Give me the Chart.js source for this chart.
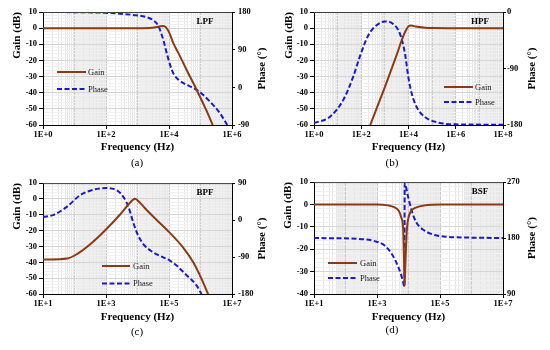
<!DOCTYPE html>
<html>
<head>
<meta charset="utf-8">
<script src="https://cdn.jsdelivr.net/npm/chart.js@4.4.1/dist/chart.umd.min.js"></script>
<style>
  body { margin: 0; background: #fff; width: 550px; height: 350px; position: relative; overflow: hidden; }
  canvas { position: absolute; }
</style>
</head>
<body>
<canvas id="ca" width="275" height="175" style="left:0;top:0"></canvas>
<canvas id="cb" width="275" height="175" style="left:275px;top:0"></canvas>
<canvas id="cc" width="275" height="175" style="left:0;top:175px"></canvas>
<canvas id="cd" width="275" height="175" style="left:275px;top:175px"></canvas>
<script>
// (a) low-pass filter
var lpfGainHz = [1, 10, 100, 1000, 3000, 5000, 6600, 8000, 10000, 13800, 20000, 36300, 75900, 150000, 245000];
var lpfGainDb = [0, 0, 0, 0, 0.3, 1.0, 1.3, 0.5, -2.5, -9.4, -15.5, -25.9, -38.3, -50.5, -60];
var lpfPhaseHz = [1, 10, 100, 724, 1905, 3236, 4571, 6607, 8511, 11220, 13800, 20000, 28840, 44670, 75860, 199500, 416900, 708000];
var lpfPhaseDeg = [180, 179.5, 178, 173, 168, 160, 147, 113, 81, 50, 33, 18, 10, 3, -6, -34, -62, -90];

// (b) high-pass filter
var hpfGainHz = [240, 1000, 3000, 6000, 8000, 10000, 13000, 20000, 50000, 100000, 1e6, 1e8];
var hpfGainDb = [-60, -36.5, -17.5, -5, -1, 1.2, 1.6, 1.0, 0.3, 0.1, 0, 0];
var hpfPhaseHz = [1, 4.8, 17.4, 45.7, 87, 200, 447, 1000, 2240, 4270, 7080, 9770, 13500, 21900, 49000, 178000, 1e6, 1e8];
var hpfPhaseDeg = [-177, -166.7, -140, -103, -71, -37, -21, -15, -19, -34, -66, -103, -129, -151, -167, -176, -179, -179.5];

// (c) band-pass filter
var bpfGainHz = [10, 58, 120, 316, 1000, 2750, 5000, 7400, 8300, 12000, 19500, 40000, 107000, 282000, 589000, 1070000, 1740000];
var bpfGainDb = [-38.3, -37.6, -34.8, -28.6, -19.3, -10, -3.8, -0.3, 0.1, -2.4, -7, -13.1, -21.4, -30.7, -40, -50.3, -60];
var bpfPhaseHz = [10, 22, 58, 151, 398, 1000, 2190, 3550, 5130, 7400, 10700, 15500, 31600, 66000, 107000, 174000, 363000, 741000, 1070000];
var bpfPhaseDeg = [7.2, 12.8, 32.7, 60.5, 74, 78, 72.5, 56.6, 32.7, -7, -39, -59, -78.8, -90.7, -98.7, -110.6, -134.5, -158.4, -180];

// (d) band-stop filter
var bsfGainHz = [10, 1000, 2240, 3630, 4900, 5900, 6760, 7200, 7500, 8000, 8900, 10000, 12300, 17800, 32400, 110000, 1e7];
var bsfGainDb = [0, 0, -0.4, -1.3, -2.8, -5.8, -10.9, -24, -36.5, -25.5, -11, -5.8, -2.8, -1.3, -0.4, 0, 0];
var bsfPhaseHz = [10, 251, 851, 1740, 3160, 4680, 5890, 6760, 7420, 7560, 9550, 12300, 17800, 32400, 67600, 178000, 776000, 1e7];
var bsfPhaseDeg = [180, 178.7, 175, 168, 152, 134, 120, 109, 101.6, 268, 248, 226, 205, 192, 185, 182, 180.8, 180];

var GAIN_COLOR = '#8B3A14';
var PHASE_COLOR = '#1A1ACC';
var SERIF = "'Liberation Serif', 'Times New Roman', serif";

function pts(xs, ys) {
    return xs.map(function(x, i) { return { x: x, y: ys[i] }; });
}
function isDecade(v) {
    var l = Math.log10(v);
    return Math.abs(l - Math.round(l)) < 1e-6;
}

// grey bands, frame, tag, legend, phase title and caption
var deco = {
    id: 'deco',
    beforeDraw: function(chart, args, o) {
        var ctx = chart.ctx, a = chart.chartArea, xs = chart.scales.x;
        ctx.save();
        ctx.fillStyle = '#eeeeee';
        o.bands.forEach(function(b) {
            var x0 = xs.getPixelForValue(b[0]), x1 = xs.getPixelForValue(b[1]);
            ctx.fillRect(x0, a.top, x1 - x0, a.bottom - a.top);
        });
        ctx.restore();
    },
    afterDraw: function(chart, args, o) {
        var ctx = chart.ctx, a = chart.chartArea;
        ctx.save();
        ctx.strokeStyle = '#404040';
        ctx.lineWidth = 1;
        ctx.beginPath();
        ctx.moveTo(a.left, a.top + 0.5);
        ctx.lineTo(a.right, a.top + 0.5);
        ctx.stroke();

        ctx.fillStyle = '#000';
        ctx.textBaseline = 'middle';
        ctx.textAlign = 'center';
        ctx.font = 'bold 9px ' + SERIF;
        ctx.fillText(o.tag, 205, a.top + 9.5);

        ctx.textAlign = 'left';
        ctx.font = '8.5px ' + SERIF;
        chart.data.datasets.forEach(function(ds, i) {
            var y = o.legY[i];
            ctx.strokeStyle = ds.borderColor;
            ctx.lineWidth = 2;
            ctx.setLineDash(ds.borderDash || []);
            ctx.beginPath();
            ctx.moveTo(o.legX[0], y);
            ctx.lineTo(o.legX[1], y);
            ctx.stroke();
            ctx.setLineDash([]);
            ctx.fillStyle = '#222';
            ctx.fillText(ds.label, o.legX[2], y + 0.5);
        });

        // right axis title reads bottom-to-top, like the left one
        ctx.fillStyle = '#000';
        ctx.textAlign = 'center';
        ctx.font = 'bold 11px ' + SERIF;
        ctx.save();
        ctx.translate(o.phX, (a.top + a.bottom) / 2);
        ctx.rotate(-Math.PI / 2);
        ctx.fillText('Phase (°)', 0, 0);
        ctx.restore();

        ctx.font = '11px ' + SERIF;
        ctx.fillText(o.sub, o.subX, o.subY);
        ctx.restore();
    }
};

function panel(id, c) {
    var lo = Math.round(Math.log10(c.xMin)), hi = Math.round(Math.log10(c.xMax));
    var tickFont = { family: SERIF, size: 8.5, weight: 'bold' };
    var titleFont = { family: SERIF, size: 11, weight: 'bold' };
    function labeled(v) {
        return isDecade(v) && (Math.round(Math.log10(v)) - lo) % 2 === 0;
    }
    new Chart(document.getElementById(id), {
        type: 'line',
        data: {
            datasets: [{
                label: 'Gain',
                data: pts(c.gHz, c.gDb),
                yAxisID: 'y',
                borderColor: GAIN_COLOR,
                borderWidth: 2,
                cubicInterpolationMode: 'monotone'
            }, {
                label: 'Phase',
                data: pts(c.pHz, c.pDeg),
                yAxisID: 'y1',
                borderColor: PHASE_COLOR,
                borderWidth: 2,
                borderDash: [5, 2.5],
                cubicInterpolationMode: 'monotone'
            }]
        },
        options: {
            responsive: false,
            animation: false,
            layout: { padding: { top: c.top, left: 0, right: 0, bottom: 0 } },
            elements: { point: { radius: 0 } },
            plugins: {
                legend: { display: false },
                tooltip: { enabled: false },
                deco: c.deco
            },
            scales: {
                x: {
                    type: 'logarithmic',
                    min: c.xMin,
                    max: c.xMax,
                    afterBuildTicks: function(s) {
                        var t = [];
                        for (var e = lo; e < hi; e++) {
                            for (var m = 1; m <= 9; m++) t.push({ value: m * Math.pow(10, e) });
                        }
                        t.push({ value: c.xMax });
                        s.ticks = t;
                    },
                    afterFit: function(s) { s.height = c.xh; },
                    ticks: {
                        autoSkip: false, maxRotation: 0, minRotation: 0, padding: 1,
                        color: '#000', font: tickFont,
                        callback: function(v) { return labeled(v) ? '1E+' + Math.round(Math.log10(v)) : ''; }
                    },
                    grid: {
                        color: function(ctx) { return isDecade(ctx.tick.value) ? '#cccccc' : '#e6e6e6'; },
                        tickColor: function(ctx) { return labeled(ctx.tick.value) ? '#000' : 'rgba(0,0,0,0)'; },
                        tickLength: 4
                    },
                    border: { color: '#000' },
                    title: {
                        display: true, text: 'Frequency (Hz)', color: '#000', font: titleFont,
                        padding: { top: 0, bottom: c.xtPad }
                    }
                },
                y: {
                    position: 'left',
                    min: c.gMin,
                    max: 10,
                    afterFit: function(s) { s.width = c.lw; },
                    ticks: {
                        stepSize: 2, autoSkip: false, padding: 2, color: '#000', font: tickFont,
                        callback: function(v) { return v % 10 === 0 ? v : ''; }
                    },
                    grid: {
                        color: function(ctx) { return ctx.tick.value % 10 === 0 ? '#d6d6d6' : '#f0f0f0'; },
                        tickColor: function(ctx) { return ctx.tick.value % 10 === 0 ? '#000' : 'rgba(0,0,0,0)'; },
                        tickLength: 4
                    },
                    border: { color: '#000' },
                    title: {
                        display: true, text: 'Gain (dB)', align: 'end', color: '#000', font: titleFont,
                        padding: { top: c.ltPad, bottom: 0 }
                    }
                },
                y1: {
                    position: 'right',
                    min: c.pMin,
                    max: c.pMax,
                    afterFit: function(s) { s.width = c.rw; },
                    ticks: { stepSize: 90, padding: c.rPad, color: '#000', font: tickFont },
                    grid: { drawOnChartArea: false, tickColor: '#000', tickLength: 3 },
                    border: { color: '#000' }
                }
            }
        },
        plugins: [deco]
    });
}

panel('ca', {
    gHz: lpfGainHz, gDb: lpfGainDb, pHz: lpfPhaseHz, pDeg: lpfPhaseDeg,
    xMin: 1, xMax: 1e6, gMin: -60, pMin: -90, pMax: 180,
    top: 12, lw: 43, rw: 43, xh: 50, ltPad: 10.4, xtPad: 21.4, rPad: 3,
    deco: { tag: 'LPF', bands: [[10, 100], [1e3, 1e4], [1e5, 1e6]], phX: 262,
            legX: [57, 86, 88], legY: [72, 89], sub: '(a)', subX: 137, subY: 163 }
});
panel('cb', {
    gHz: hpfGainHz, gDb: hpfGainDb, pHz: hpfPhaseHz, pDeg: hpfPhaseDeg,
    xMin: 1, xMax: 1e8, gMin: -60, pMin: -180, pMax: 0,
    top: 12, lw: 39, rw: 47, xh: 50, ltPad: 7.4, xtPad: 21.4, rPad: 1,
    deco: { tag: 'HPF', bands: [[10, 100], [1e3, 1e4], [1e5, 1e6], [1e7, 1e8]], phX: 257,
            legX: [169, 198, 200], legY: [87, 102], sub: '(b)', subX: 117, subY: 163 }
});
panel('cc', {
    gHz: bpfGainHz, gDb: bpfGainDb, pHz: bpfPhaseHz, pDeg: bpfPhaseDeg,
    xMin: 10, xMax: 1e7, gMin: -60, pMin: -180, pMax: 90,
    top: 6, lw: 43, rw: 43, xh: 56, ltPad: 10.4, xtPad: 26.4, rPad: 3,
    deco: { tag: 'BPF', bands: [[110, 1e3], [1.1e4, 1e5], [1e6, 1e7]], phX: 262,
            legX: [102, 130, 133], legY: [91, 108.5], sub: '(c)', subX: 137, subY: 157 }
});
panel('cd', {
    gHz: bsfGainHz, gDb: bsfGainDb, pHz: bsfPhaseHz, pDeg: bsfPhaseDeg,
    xMin: 10, xMax: 1e7, gMin: -40, pMin: 90, pMax: 270,
    top: 6, lw: 39, rw: 47, xh: 56, ltPad: 6.4, xtPad: 26.4, rPad: 1,
    deco: { tag: 'BSF', bands: [[50, 1e3], [5.8e3, 1e5], [6e5, 1e7]], phX: 257,
            legX: [53, 82, 85], legY: [88, 103], sub: '(d)', subX: 117, subY: 155 }
});
</script>
</body>
</html>
